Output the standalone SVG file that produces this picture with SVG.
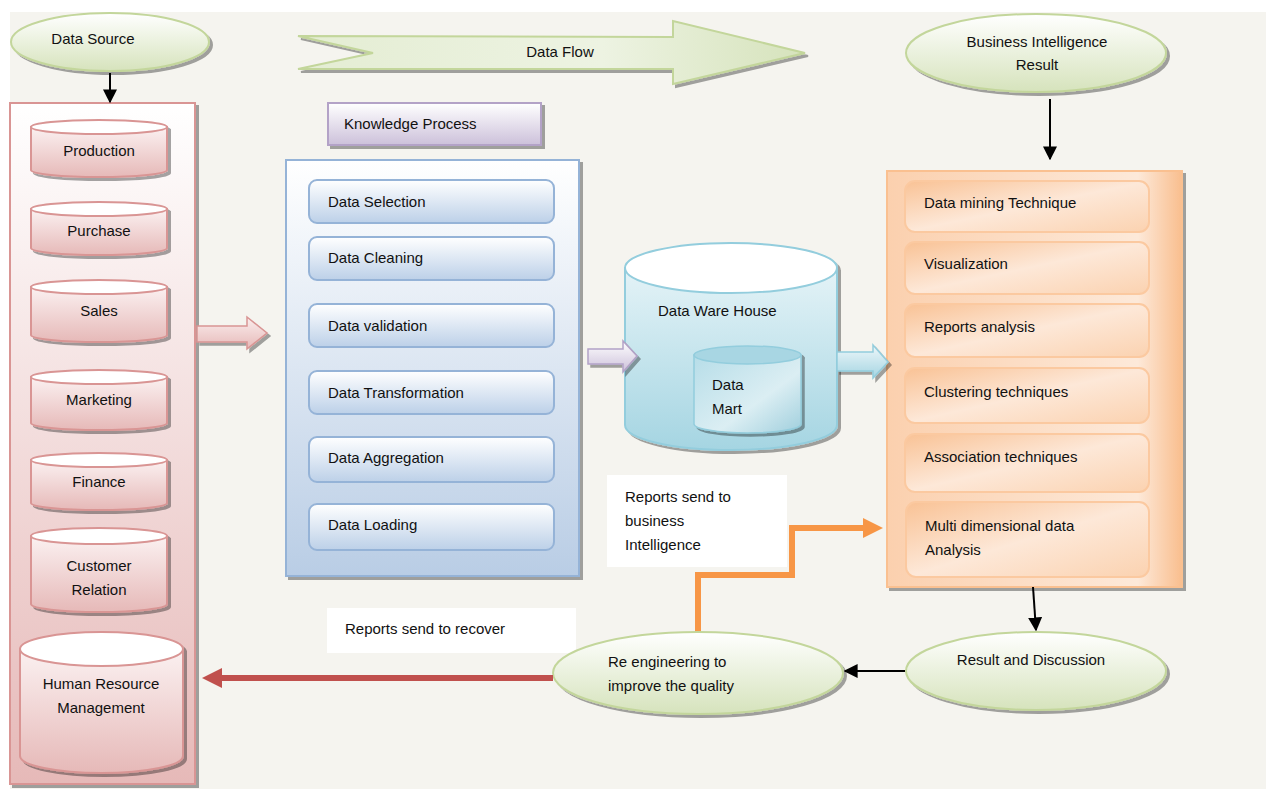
<svg xmlns="http://www.w3.org/2000/svg" width="1266" height="789" viewBox="0 0 1266 789">
<defs>
  <linearGradient id="gGreen" x1="0" y1="0" x2="0" y2="1">
    <stop offset="0" stop-color="#ffffff"/><stop offset="1" stop-color="#d6e3bc"/>
  </linearGradient>
  <linearGradient id="gFlow" x1="0" y1="0" x2="1" y2="0">
    <stop offset="0" stop-color="#e4edd3"/><stop offset="0.6" stop-color="#edf3e2"/><stop offset="1" stop-color="#d6e3bc"/>
  </linearGradient>
  <linearGradient id="gPinkPanel" x1="0" y1="0" x2="0" y2="1">
    <stop offset="0" stop-color="#ffffff"/><stop offset="1" stop-color="#e6b9b8"/>
  </linearGradient>
  <linearGradient id="gPinkCyl" x1="0" y1="0" x2="0" y2="1">
    <stop offset="0" stop-color="#fbf1f1"/><stop offset="1" stop-color="#e6b9b8"/>
  </linearGradient>
  <linearGradient id="gPinkArrow" x1="0" y1="0" x2="0" y2="1">
    <stop offset="0" stop-color="#fbeeee"/><stop offset="1" stop-color="#e6b9b8"/>
  </linearGradient>
  <linearGradient id="gLav" x1="0" y1="0" x2="0" y2="1">
    <stop offset="0" stop-color="#ffffff"/><stop offset="1" stop-color="#ccc0da"/>
  </linearGradient>
  <linearGradient id="gBluePanel" x1="0" y1="0" x2="0" y2="1">
    <stop offset="0" stop-color="#ffffff"/><stop offset="1" stop-color="#b9cde5"/>
  </linearGradient>
  <linearGradient id="gBlueBox" x1="0" y1="0" x2="0" y2="1">
    <stop offset="0" stop-color="#ffffff"/><stop offset="1" stop-color="#bcd0e8"/>
  </linearGradient>
  <linearGradient id="gCyan" x1="0" y1="0" x2="0" y2="1">
    <stop offset="0" stop-color="#e4f3f7"/><stop offset="1" stop-color="#a5d5e2"/>
  </linearGradient>
  <linearGradient id="gMart" x1="0" y1="0" x2="1" y2="1">
    <stop offset="0" stop-color="#b6dde8"/><stop offset="0.6" stop-color="#dbeef3"/><stop offset="1" stop-color="#a0cfdd"/>
  </linearGradient>
  <linearGradient id="gCyanArrow" x1="0" y1="0" x2="0" y2="1">
    <stop offset="0" stop-color="#eef7fa"/><stop offset="1" stop-color="#a5d5e2"/>
  </linearGradient>
  <linearGradient id="gOrangePanel" x1="0" y1="0" x2="1" y2="0">
    <stop offset="0" stop-color="#fbd0ae"/><stop offset="0.85" stop-color="#fde9d9"/><stop offset="1" stop-color="#f9be8e"/>
  </linearGradient>
  <linearGradient id="gOrangeBox" x1="0" y1="0" x2="1" y2="1">
    <stop offset="0" stop-color="#f9c295"/><stop offset="0.5" stop-color="#fde8d8"/><stop offset="1" stop-color="#fbd2b0"/>
  </linearGradient>
  <filter id="sh" x="-10%" y="-10%" width="130%" height="130%">
    <feDropShadow dx="3" dy="3" stdDeviation="0.6" flood-color="#000" flood-opacity="0.35"/>
  </filter>
  <marker id="mBlack" viewBox="0 0 10 10" refX="9" refY="5" markerWidth="7" markerHeight="7" orient="auto" markerUnits="strokeWidth">
    <path d="M0,0 L10,5 L0,10 Z" fill="#000"/>
  </marker>
</defs>
<style>
  text { font-family: "Liberation Sans", Arial, sans-serif; font-size: 15px; fill: #111; }
  .c { text-anchor: middle; }
  .ell { fill: url(#gGreen); stroke: #c3d69b; stroke-width: 2; filter: url(#sh); }
  .pcyl { fill: url(#gPinkCyl); stroke: #d99594; stroke-width: 2; }
  .ptop { fill: #ffffff; stroke: #d99594; stroke-width: 2; }
  .bbox { fill: url(#gBlueBox); stroke: #95b3d7; stroke-width: 2; }
  .obox { fill: url(#gOrangeBox); stroke: #fbc9a0; stroke-width: 2; }
  .blk { stroke: #000; stroke-width: 2; fill: none; }
  .note { fill: #ffffff; }
</style>

<rect x="10" y="12" width="1256" height="777" fill="#f5f4ef"/>

<g id="data-flow">
  <path d="M298,36 L673,37 L673,21 L805,53 L673,84 L673,69 L298,69 L373,53 Z" fill="url(#gFlow)" stroke="#c3d69b" stroke-width="2" filter="url(#sh)"/>
  <text x="560" y="57" class="c">Data Flow</text>
</g>

<g id="data-source">
  <ellipse cx="110" cy="42" rx="99" ry="29" class="ell"/>
  <text x="93" y="44" class="c">Data Source</text>
</g>

<g id="bi-result">
  <ellipse cx="1036" cy="53" rx="130" ry="39" class="ell"/>
  <text x="1037" y="47" class="c">Business Intelligence</text>
  <text x="1037" y="70" class="c">Result</text>
</g>

<g id="sources-panel">
  <rect x="10" y="103" width="185" height="681" fill="url(#gPinkPanel)" stroke="#d99594" stroke-width="2" filter="url(#sh)"/>
  <g id="production" filter="url(#sh)">
    <path class="pcyl" d="M31,127 L31,170 A68,7 0 0 0 167,170 L167,127 Z"/>
    <ellipse class="ptop" cx="99" cy="127" rx="68" ry="7"/>
  </g>
  <text x="99" y="156" class="c">Production</text>
  <g id="purchase" filter="url(#sh)">
    <path class="pcyl" d="M31,209 L31,248 A68,7 0 0 0 167,248 L167,209 Z"/>
    <ellipse class="ptop" cx="99" cy="209" rx="68" ry="7"/>
  </g>
  <text x="99" y="236" class="c">Purchase</text>
  <g id="sales" filter="url(#sh)">
    <path class="pcyl" d="M31,287 L31,335 A68,7 0 0 0 167,335 L167,287 Z"/>
    <ellipse class="ptop" cx="99" cy="287" rx="68" ry="7"/>
  </g>
  <text x="99" y="316" class="c">Sales</text>
  <g id="marketing" filter="url(#sh)">
    <path class="pcyl" d="M31,377 L31,423 A68,7 0 0 0 167,423 L167,377 Z"/>
    <ellipse class="ptop" cx="99" cy="377" rx="68" ry="7"/>
  </g>
  <text x="99" y="405" class="c">Marketing</text>
  <g id="finance" filter="url(#sh)">
    <path class="pcyl" d="M31,460 L31,503 A68,7 0 0 0 167,503 L167,460 Z"/>
    <ellipse class="ptop" cx="99" cy="460" rx="68" ry="7"/>
  </g>
  <text x="99" y="487" class="c">Finance</text>
  <g id="customer-relation" filter="url(#sh)">
    <path class="pcyl" d="M31,536 L31,604 A68,8 0 0 0 167,604 L167,536 Z"/>
    <ellipse class="ptop" cx="99" cy="536" rx="68" ry="8"/>
  </g>
  <text x="99" y="571" class="c">Customer</text>
  <text x="99" y="595" class="c">Relation</text>
  <g id="hrm" filter="url(#sh)">
    <path class="pcyl" d="M20,649 L20,756 A81.5,17 0 0 0 183,756 L183,649 Z"/>
    <ellipse class="ptop" cx="101.5" cy="649" rx="81.5" ry="17"/>
  </g>
  <text x="101" y="689" class="c">Human Resource</text>
  <text x="101" y="713" class="c">Management</text>
</g>

<g id="knowledge-process-title">
  <rect x="328" y="103" width="213" height="42" fill="url(#gLav)" stroke="#b3a2c7" stroke-width="2" filter="url(#sh)"/>
  <text x="344" y="129">Knowledge Process</text>
</g>

<g id="knowledge-process">
  <rect x="286" y="160" width="293" height="416" fill="url(#gBluePanel)" stroke="#95b3d7" stroke-width="2" filter="url(#sh)"/>
  <rect class="bbox" x="309" y="180" width="245" height="43" rx="8"/>
  <text x="328" y="207">Data Selection</text>
  <rect class="bbox" x="309" y="237" width="245" height="43" rx="8"/>
  <text x="328" y="263">Data Cleaning</text>
  <rect class="bbox" x="309" y="304" width="245" height="43" rx="8"/>
  <text x="328" y="331">Data validation</text>
  <rect class="bbox" x="309" y="371" width="245" height="43" rx="8"/>
  <text x="328" y="398">Data Transformation</text>
  <rect class="bbox" x="309" y="437" width="245" height="45" rx="8"/>
  <text x="328" y="463">Data Aggregation</text>
  <rect class="bbox" x="309" y="504" width="245" height="46" rx="8"/>
  <text x="328" y="530">Data Loading</text>
</g>

<g id="data-warehouse">
  <g filter="url(#sh)">
    <path d="M625,268 L625,425 A106,25 0 0 0 837,425 L837,268 Z" fill="url(#gCyan)" stroke="#93cddd" stroke-width="2"/>
    <ellipse cx="731" cy="268" rx="106" ry="25" fill="#ffffff" stroke="#93cddd" stroke-width="2"/>
  </g>
  <text x="658" y="316">Data Ware House</text>
  <g id="data-mart" filter="url(#sh)">
    <path d="M694,355 L694,424 A53.5,9 0 0 0 801,424 L801,355 Z" fill="url(#gMart)" stroke="#93cddd" stroke-width="1.5"/>
    <ellipse cx="747.5" cy="355" rx="53.5" ry="9" fill="#a8d6e3" stroke="#93cddd" stroke-width="1.5"/>
  </g>
  <text x="712" y="390">Data</text>
  <text x="712" y="414">Mart</text>
</g>

<g id="bi-techniques">
  <rect x="887" y="171" width="295" height="416" fill="url(#gOrangePanel)" stroke="#fac090" stroke-width="2" filter="url(#sh)"/>
  <rect class="obox" x="905" y="181" width="244" height="51" rx="10"/>
  <text x="924" y="208">Data mining Technique</text>
  <rect class="obox" x="905" y="242" width="244" height="52" rx="10"/>
  <text x="924" y="269">Visualization</text>
  <rect class="obox" x="905" y="304" width="244" height="53" rx="10"/>
  <text x="924" y="332">Reports analysis</text>
  <rect class="obox" x="905" y="368" width="244" height="55" rx="10"/>
  <text x="924" y="397">Clustering techniques</text>
  <rect class="obox" x="905" y="434" width="244" height="58" rx="10"/>
  <text x="924" y="462">Association techniques</text>
  <rect class="obox" x="906" y="502" width="243" height="75" rx="10"/>
  <text x="925" y="531">Multi dimensional data</text>
  <text x="925" y="555">Analysis</text>
</g>

<g id="note-reports-bi">
  <rect class="note" x="607" y="475" width="180" height="92"/>
  <text x="625" y="502">Reports send to</text>
  <text x="625" y="526">business</text>
  <text x="625" y="550">Intelligence</text>
</g>

<g id="note-reports-recover">
  <rect class="note" x="327" y="608" width="249" height="45"/>
  <text x="345" y="634">Reports send to recover</text>
</g>

<g id="connectors">
  <path d="M197,326 L247,326 L247,317 L267,333 L247,349 L247,342 L197,342 Z" fill="url(#gPinkArrow)" stroke="#d99594" stroke-width="1.5" filter="url(#sh)"/>
  <path d="M588,349 L623,349 L623,341 L637,356 L623,372 L623,364 L588,364 Z" fill="url(#gLav)" stroke="#b3a2c7" stroke-width="1.5" filter="url(#sh)"/>
  <path d="M837,352 L873,352 L873,345 L888,362 L873,378 L873,371 L837,371 Z" fill="url(#gCyanArrow)" stroke="#93cddd" stroke-width="1.5" filter="url(#sh)"/>
  <line class="blk" x1="110" y1="73" x2="110" y2="102" marker-end="url(#mBlack)"/>
  <line class="blk" x1="1050" y1="99" x2="1050" y2="159" marker-end="url(#mBlack)"/>
  <line class="blk" x1="1033" y1="587" x2="1036" y2="630" marker-end="url(#mBlack)"/>
  <line class="blk" x1="905" y1="671" x2="845" y2="671" marker-end="url(#mBlack)"/>
  <path d="M698,632 L698,575 L792,575 L792,528 L865,528" fill="none" stroke="#f79646" stroke-width="6"/>
  <path d="M863,518 L883,528 L863,538 Z" fill="#f79646"/>
</g>

<g id="re-engineering">
  <ellipse cx="698" cy="673" rx="145" ry="41" class="ell"/>
  <text x="608" y="667">Re engineering to</text>
  <text x="608" y="691">improve the quality</text>
</g>

<g id="result-discussion">
  <ellipse cx="1036" cy="671" rx="130" ry="39" class="ell"/>
  <text x="1031" y="665" class="c">Result and Discussion</text>
</g>

<g id="connectors-2">
  <path d="M553,678 L220,678" fill="none" stroke="#c0504d" stroke-width="6"/>
  <path d="M222,668 L202,678 L222,688 Z" fill="#c0504d"/>
</g>
</svg>
